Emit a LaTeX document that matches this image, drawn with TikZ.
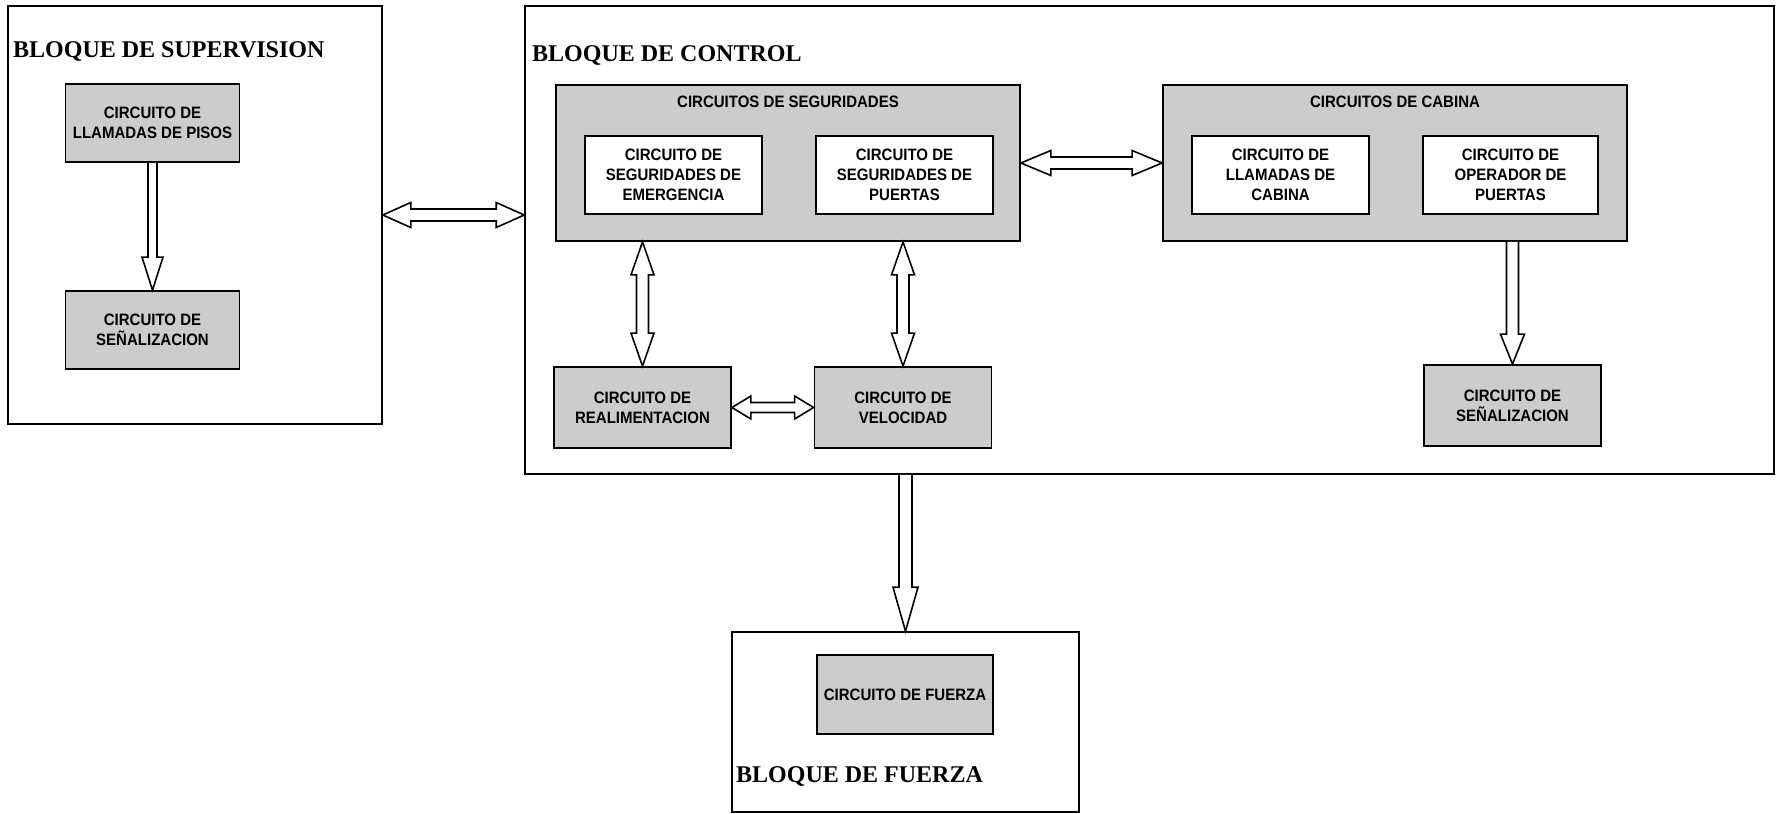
\documentclass[tikz,border=0pt]{standalone}
\usepackage{fontspec}
\setmainfont{Liberation Serif}
\newfontfamily\boxfont{Liberation Sans}[FakeStretch=0.91]
\usetikzlibrary{calc}
\definecolor{shade}{gray}{0.8}
% fat hollow arrows between named points
\newcommand\arrdown[5]{% #1 start, #2 tip, #3 shaft half, #4 head half, #5 head length
  \draw[fatarrow] let \p1=#1, \p2=#2 in
   (\x2-#3,\y1) -- (\x2-#3,\y2+#5) -- (\x2-#4,\y2+#5) -- (\x2,\y2) --
   (\x2+#4,\y2+#5) -- (\x2+#3,\y2+#5) -- (\x2+#3,\y1);}
\newcommand\arrvv[5]{% #1 top tip, #2 bottom tip
  \draw[fatarrow] let \p1=#1, \p2=#2 in
   (\x2,\y1) -- (\x2+#4,\y1-#5) -- (\x2+#3,\y1-#5) -- (\x2+#3,\y2+#5) --
   (\x2+#4,\y2+#5) -- (\x2,\y2) -- (\x2-#4,\y2+#5) -- (\x2-#3,\y2+#5) --
   (\x2-#3,\y1-#5) -- (\x2-#4,\y1-#5) -- cycle;}
\newcommand\arrhh[5]{% #1 left tip, #2 right tip
  \draw[fatarrow] let \p1=#1, \p2=#2 in
   (\x1,\y1) -- (\x1+#5,\y1+#4) -- (\x1+#5,\y1+#3) -- (\x2-#5,\y1+#3) --
   (\x2-#5,\y1+#4) -- (\x2,\y1) -- (\x2-#5,\y1-#4) -- (\x2-#5,\y1-#3) --
   (\x1+#5,\y1-#3) -- (\x1+#5,\y1-#4) -- cycle;}
\begin{document}
\begin{tikzpicture}[x=1pt,y=-1pt,
  outerblk/.style={draw, line width=1.6pt, inner sep=0pt},
  graybox/.style={draw, line width=1.8pt, fill=shade, inner sep=0pt, align=center,
    font=\boxfont\bfseries\fontsize{16.5}{20}\selectfont},
  whitebox/.style={graybox, fill=white},
  blktitle/.style={inner sep=0pt, anchor=base west, font=\bfseries\fontsize{24}{28}\selectfont},
  grptitle/.style={inner sep=0pt, anchor=base, font=\boxfont\bfseries\fontsize{16.5}{18}\selectfont},
  fatarrow/.style={draw, fill=white, line width=1.6pt, line join=miter}]
\useasboundingbox (0,0) rectangle (1778,814);

% outer blocks
\node[outerblk, minimum width=374pt, minimum height=418pt] (sup) at (195,215) {};
\node[outerblk, minimum width=1249pt, minimum height=468pt] (ctl) at (1149.5,240) {};
\node[outerblk, minimum width=347pt, minimum height=180pt] (fza) at (905.5,722) {};

\node[blktitle] (suptitle) at (13,57) {BLOQUE DE SUPERVISION};
\node[blktitle] (ctltitle) at (532,61) {BLOQUE DE CONTROL};
\node[blktitle] (fzatitle) at (736,782) {BLOQUE DE FUERZA};

% supervision
\node[graybox, minimum width=174pt, minimum height=78pt] (pisos) at (152.5,123) {CIRCUITO DE\\LLAMADAS DE PISOS};
\node[graybox, minimum width=174pt, minimum height=78pt] (ssup) at (152.5,330) {CIRCUITO DE\\SEÑALIZACION};

% control: groups
\node[graybox, minimum width=464pt, minimum height=156pt] (seg) at (788,163) {};
\node[graybox, minimum width=464pt, minimum height=156pt] (cab) at (1395,163) {};
\node[grptitle] (segtitle) at ($(seg.north)+(0,23)$) {CIRCUITOS DE SEGURIDADES};
\node[grptitle] (cabtitle) at ($(cab.north)+(0,23)$) {CIRCUITOS DE CABINA};

\node[whitebox, minimum width=177pt, minimum height=78pt] (emer) at (673.5,175) {CIRCUITO DE\\SEGURIDADES DE\\EMERGENCIA};
\node[whitebox, minimum width=177pt, minimum height=78pt] (spue) at (904.5,175) {CIRCUITO DE\\SEGURIDADES DE\\PUERTAS};
\node[whitebox, minimum width=177pt, minimum height=78pt] (lcab) at (1280.5,175) {CIRCUITO DE\\LLAMADAS DE\\CABINA};
\node[whitebox, minimum width=175pt, minimum height=78pt] (oper) at (1510.5,175) {CIRCUITO DE\\OPERADOR DE\\PUERTAS};

\node[graybox, minimum width=177pt, minimum height=81pt] (real) at (642.5,407.5) {CIRCUITO DE\\REALIMENTACION};
\node[graybox, minimum width=177pt, minimum height=81pt] (velo) at (903,407.5) {CIRCUITO DE\\VELOCIDAD};
\node[graybox, minimum width=177pt, minimum height=81pt] (scab) at (1512.5,405.5) {CIRCUITO DE\\SEÑALIZACION};

% fuerza
\node[graybox, minimum width=176pt, minimum height=79pt] (cfza) at (905,694.5) {CIRCUITO DE FUERZA};

% connectors
\arrdown{(pisos.south)}{(ssup.north)}{4.5pt}{10.5pt}{33pt}
\arrhh{(sup.east)}{(ctl.west |- sup.east)}{6pt}{12.5pt}{28pt}
\arrhh{(seg.east)}{(cab.west)}{6pt}{12.5pt}{30pt}
\arrvv{(seg.south -| real.north)}{(real.north)}{6pt}{11.5pt}{33pt}
\arrvv{(seg.south -| velo.north)}{(velo.north)}{6pt}{11.5pt}{33pt}
\arrhh{(real.east)}{(velo.west)}{5pt}{11.5pt}{19pt}
\arrdown{(cab.south -| scab.north)}{(scab.north)}{6pt}{12pt}{30pt}
\arrdown{(ctl.south -| fza.north)}{(fza.north)}{6.5pt}{12.5pt}{44pt}
\end{tikzpicture}
\end{document}
